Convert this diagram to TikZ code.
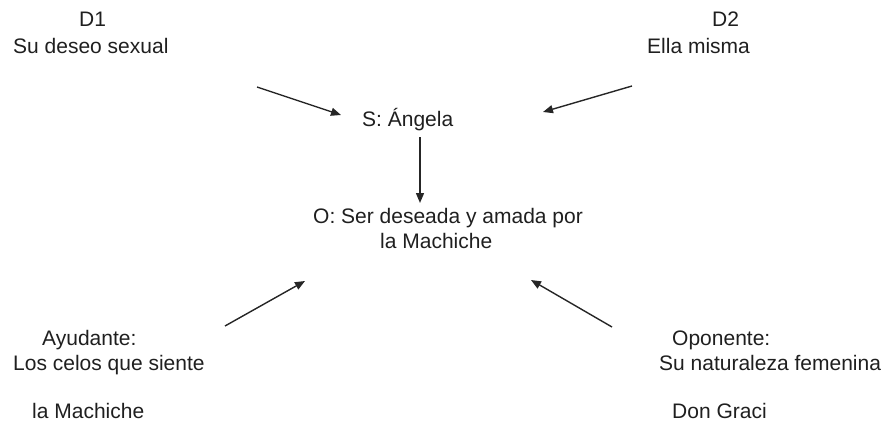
\documentclass[tikz,border=0pt]{standalone}
\usepackage{fontspec}
\setmainfont{Liberation Sans}
\usetikzlibrary{arrows.meta}
\begin{document}
\begin{tikzpicture}[x=1pt,y=-1pt,
  lbl/.style={anchor=base west,inner sep=0pt,font=\fontsize{21}{25}\selectfont,text=black!88},
  arr/.style={draw=black!85,line width=1.4pt,-{Triangle[length=10pt,width=8pt]}}]
\useasboundingbox (0,0) rectangle (886,423);
% top left
\node[lbl] (d1) at (79,27) {D1};
\node[lbl] (d1t) at (13,53) {Su deseo sexual};
% top right
\node[lbl] (d2) at (712,27) {D2};
\node[lbl] (d2t) at (647,53) {Ella misma};
% subject / object
\node[lbl] (s) at (362,126) {S: Ángela};
\node[lbl] (o1) at (313,223) {O: Ser deseada y amada por};
\node[lbl] (o2) at (380,248) {la Machiche};
% bottom left
\node[lbl] (a1) at (42,345) {Ayudante:};
\node[lbl] (a2) at (13,370) {Los celos que siente};
\node[lbl] (a3) at (32,418) {la Machiche};
% bottom right
\node[lbl] (p1) at (672,345) {Oponente:};
\node[lbl] (p2) at (659,370) {Su naturaleza femenina};
\node[lbl] (p3) at (672,418) {Don Graci};
% arrow ends
\coordinate (d1s) at (257,87);
\coordinate (d1e) at (341,115);
\coordinate (d2s) at (632,86);
\coordinate (d2e) at (543,112);
\coordinate (ss) at (420,137);
\coordinate (se) at (420,203);
\coordinate (as) at (225,326);
\coordinate (ae) at (305,281);
\coordinate (ps) at (612,327);
\coordinate (pe) at (531,280);
\draw[arr] (d1s) -- (d1e);
\draw[arr] (d2s) -- (d2e);
\draw[arr] (ss) -- (se);
\draw[arr] (as) -- (ae);
\draw[arr] (ps) -- (pe);
\end{tikzpicture}
\end{document}
